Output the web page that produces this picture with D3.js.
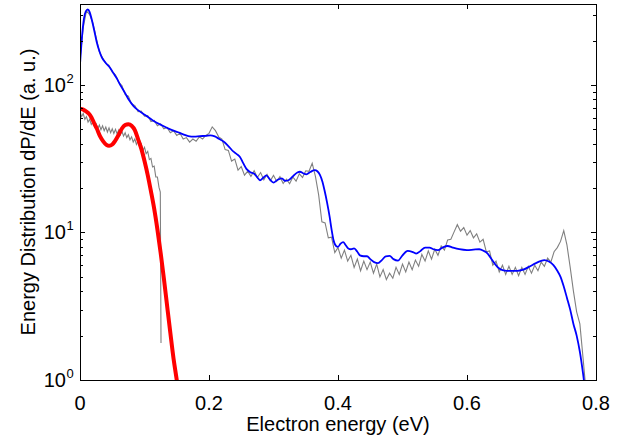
<!DOCTYPE html>
<html><head><meta charset="utf-8">
<script src="https://cdn.jsdelivr.net/npm/d3@7"></script>
<style>
body{margin:0;background:#fff}
svg{display:block}
text{font-family:"Liberation Sans",Arial,sans-serif;fill:#000}
</style>
</head><body>
<svg id="chart" width="638" height="436"></svg>
<script>
// ---------- data ----------
const xTickValues = [0, 0.2, 0.4, 0.6, 0.8];
const xTickLabels = ["0", "0.2", "0.4", "0.6", "0.8"];
const yMajorTicks = [1, 10, 100];
const yTickExponents = ["0", "1", "2"];
const yMinorTicks = [2,3,4,5,6,7,8,9,20,30,40,50,60,70,80,90,200,300];

// measured spectrum (upper gray), sampled every 0.005 eV from 0
const measuredStart = 0, measuredStep = 0.005;
const measuredValues = [
 148,245,318,300,262,210,168,153,140,136,
 122,117,104,99,86,84,74.5,72.5,66,66.5,
 61.5,62,56.5,57.5,53,54.5,50.5,51.5,47.5,49,
 45.5,47,43,44,41,43,41.5,44.5,43,45.5,
 47,52,49,44.5,43,36.5,36,30.5,31.5,26.5,
 28,24.5,26,24,26.2,23.6,25.5,22.8,24.8,22.4,
 24.4,22.2,23.9,21.5,23.0,21.4,23.8,22.3,25,23.6,
 26.2,26,29.5,24,18,11.8,11.6,9.2,9.3,7.3,
 7.9,6.7,7.6,6.4,7.0,5.8,6.6,5.5,6.4,5.6,
 6.3,5.3,6.1,5.0,5.6,4.8,5.3,4.9,5.8,5.2,
 6.1,5.4,6.3,5.6,6.5,5.9,7.1,6.4,7.5,6.6,
 7.7,7.0,8.1,7.6,8.9,9.0,10.1,11.3,10.2,10.8,
 9.6,10.3,9.2,9.8,8.6,9.0,7.4,7.5,6.0,6.4,
 5.4,6.0,5.2,5.9,5.2,5.8,5.1,5.8,5.2,5.9,
 5.3,6.0,5.5,6.3,5.9,6.7,6.3,7.4,7.9,8.7,
 10.3,8.2,5.8,4.0,2.9,2.4,1.4,0.8
];

// measured low-energy spectrum (lower gray), sampled every 0.0025 eV
const lowStart = 0, lowStep = 0.0025;
const lowValues = [
 66,61,64,58.5,61,56,58.5,54,56.5,52,
 54.5,50.5,53.5,49.8,52.8,49,51.8,48,51.2,47.5,
 50.5,47,50,46.5,49.5,46,48.5,45,47.5,44,
 46,42.5,44.5,41,43,39.5,41.8,38,39.8,36,
 37.8,34.2,35.5,31.2,31.8,27.8,28.2,23.8,23.8,20.2
];
const lowTailEnergy = [0.1245, 0.1256];
const lowTailValues = [18.8, 1.78];

// simulation (blue)
const simEnergy = [0,0.003,0.006,0.009,0.012,0.015,0.018,0.022,0.026,0.030,
 0.034,0.040,0.047,0.052,0.057,0.063,0.070,0.076,0.083,0.090,
 0.101,0.113,0.126,0.140,0.152,0.160,0.168,0.177,0.186,0.195,
 0.202,0.209,0.216,0.222,0.230,0.238,0.243,0.248,0.253,0.258,
 0.264,0.270,0.275,0.279,0.284,0.289,0.294,0.300,0.306,0.313,
 0.318,0.323,0.330,0.337,0.341,0.346,0.351,0.357,0.364,0.368,
 0.372,0.376,0.379,0.383,0.387,0.390,0.393,0.397,0.400,0.404,
 0.408,0.412,0.416,0.420,0.425,0.430,0.434,0.440,0.445,0.450,
 0.456,0.462,0.468,0.474,0.480,0.486,0.493,0.500,0.508,0.515,
 0.521,0.528,0.535,0.542,0.548,0.555,0.562,0.570,0.578,0.588,
 0.600,0.610,0.619,0.626,0.632,0.639,0.647,0.655,0.662,0.670,
 0.678,0.686,0.696,0.707,0.714,0.720,0.727,0.734,0.740,0.745,
 0.750,0.755,0.760,0.765,0.770,0.775,0.780,0.784];
const simValues = [137,210,280,315,325,312,280,235,195,170,
 153,141,130,120,111,99,88,79,72,67.5,
 62.5,57.5,53.5,50,47.8,46.3,45,44.6,45,45.2,
 45.6,44.8,43,41.5,38.5,35.3,34,32.5,29.5,27,
 25.6,25,23.6,22.6,23.5,24.4,23,21.8,22.7,23.3,
 22.4,22.6,24,25.5,25.8,25.2,24.8,25.7,26.5,26,
 24.6,22,19.4,16,12.8,10.5,8.9,8.1,8.0,8.4,
 8.6,8.2,7.8,7.7,7.8,7.4,7.0,6.9,6.9,6.6,
 6.3,6.2,6.5,6.9,6.95,6.6,6.45,7.0,7.5,7.4,
 7.2,7.5,7.9,7.9,7.7,7.6,7.9,8.1,7.9,7.7,
 7.6,7.65,7.7,7.5,7.2,6.5,5.85,5.55,5.5,5.5,
 5.5,5.57,5.85,6.2,6.4,6.5,6.35,6.0,5.5,5.0,
 4.3,3.6,3.0,2.4,2.0,1.55,1.1,0.8];

// model (red)
const modelEnergy = [0,0.005,0.010,0.013,0.018,0.022,0.026,0.031,0.036,0.041,
 0.045,0.050,0.054,0.060,0.065,0.070,0.075,0.080,0.085,0.090,
 0.095,0.100,0.105,0.110,0.115,0.120,0.125,0.130,0.135,0.140,
 0.145,0.150,0.153];
const modelValues = [69,68,66,64.4,60,55,50.7,45,41.5,39.3,
 38.7,39.5,41.5,46,50.7,53.5,54.2,53,49.5,43,
 37,30.5,24.5,19,14.5,10.5,7.3,4.9,3.2,2.1,
 1.4,1.0,0.8];

// ---------- layout ----------
const L = 80, R = 596, T = 4, B = 380;
const svg = d3.select("#chart");

const x = d3.scaleLinear().domain([0, 0.8]).range([L, R]);
const y = d3.scaleLog().domain([1, 354]).range([B, T]);

svg.append("defs").append("clipPath").attr("id", "clip")
  .append("rect").attr("x", L).attr("y", T).attr("width", R - L).attr("height", B - T);

const plot = svg.append("g").attr("clip-path", "url(#clip)");

const measured = measuredValues.map((v, i) => [measuredStart + i * measuredStep, v]);
const low = lowValues.map((v, i) => [lowStart + i * lowStep, v])
  .concat(lowTailEnergy.map((e, i) => [e, lowTailValues[i]]));
const sim = simEnergy.map((e, i) => [e, simValues[i]]);
const model = modelEnergy.map((e, i) => [e, modelValues[i]]);

const lin = d3.line().x(d => x(d[0])).y(d => y(d[1]));
const smoothLine = d3.line().x(d => x(d[0])).y(d => y(d[1])).curve(d3.curveMonotoneX);

plot.append("path").attr("d", lin(measured)).attr("fill", "none")
  .attr("stroke", "#808080").attr("stroke-width", 1.1);
plot.append("path").attr("d", lin(low)).attr("fill", "none")
  .attr("stroke", "#808080").attr("stroke-width", 1.1);
plot.append("path").attr("d", smoothLine(sim)).attr("fill", "none")
  .attr("stroke", "#0000ff").attr("stroke-width", 1.8);
plot.append("path").attr("d", smoothLine(model)).attr("fill", "none")
  .attr("stroke", "#ff0000").attr("stroke-width", 4);

// ---------- axes ----------
const axG = svg.append("g").attr("shape-rendering", "crispEdges");
function styleAxis(g) {
  g.select(".domain").remove();
  g.selectAll("line").attr("stroke", "#000");
}
axG.append("g").attr("transform", `translate(0,${B})`)
  .call(d3.axisBottom(x).tickValues(xTickValues).tickSizeInner(-5).tickSizeOuter(0).tickFormat(""))
  .call(styleAxis);
axG.append("g").attr("transform", `translate(0,${T})`)
  .call(d3.axisTop(x).tickValues(xTickValues).tickSizeInner(-5).tickSizeOuter(0).tickFormat(""))
  .call(styleAxis);
axG.append("g").attr("transform", `translate(${L},0)`)
  .call(d3.axisLeft(y).tickValues(yMajorTicks).tickSizeInner(-5).tickSizeOuter(0).tickFormat(""))
  .call(styleAxis);
axG.append("g").attr("transform", `translate(${L},0)`)
  .call(d3.axisLeft(y).tickValues(yMinorTicks).tickSizeInner(-3).tickSizeOuter(0).tickFormat(""))
  .call(styleAxis);
axG.append("g").attr("transform", `translate(${R},0)`)
  .call(d3.axisRight(y).tickValues(yMajorTicks).tickSizeInner(-5).tickSizeOuter(0).tickFormat(""))
  .call(styleAxis);
axG.append("g").attr("transform", `translate(${R},0)`)
  .call(d3.axisRight(y).tickValues(yMinorTicks).tickSizeInner(-3).tickSizeOuter(0).tickFormat(""))
  .call(styleAxis);
axG.append("rect").attr("x", L).attr("y", T).attr("width", R - L).attr("height", B - T)
  .attr("fill", "none").attr("stroke", "#000").attr("stroke-width", 1);

// tick labels
const fs = 20;
svg.append("g").selectAll("text").data(xTickValues).join("text")
  .attr("x", d => x(d)).attr("y", B + 30).attr("text-anchor", "middle")
  .attr("font-size", fs).text((d, i) => xTickLabels[i]);

const yl = svg.append("g");
yMajorTicks.forEach((v, i) => {
  yl.append("text").attr("x", L - 14).attr("y", y(v) + 7).attr("text-anchor", "end")
    .attr("font-size", fs).text("10");
  yl.append("text").attr("x", L - 13.5).attr("y", y(v) - 2).attr("text-anchor", "start")
    .attr("font-size", 13).text(yTickExponents[i]);
});

// axis titles
svg.append("text").attr("x", (L + R) / 2).attr("y", 431).attr("text-anchor", "middle")
  .attr("font-size", fs).text("Electron energy (eV)");
svg.append("text").attr("transform", `translate(35,${(T + B) / 2}) rotate(-90)`)
  .attr("text-anchor", "middle").attr("font-size", fs)
  .text("Energy Distribution dP/dE (a. u.)");
</script>
</body></html>
